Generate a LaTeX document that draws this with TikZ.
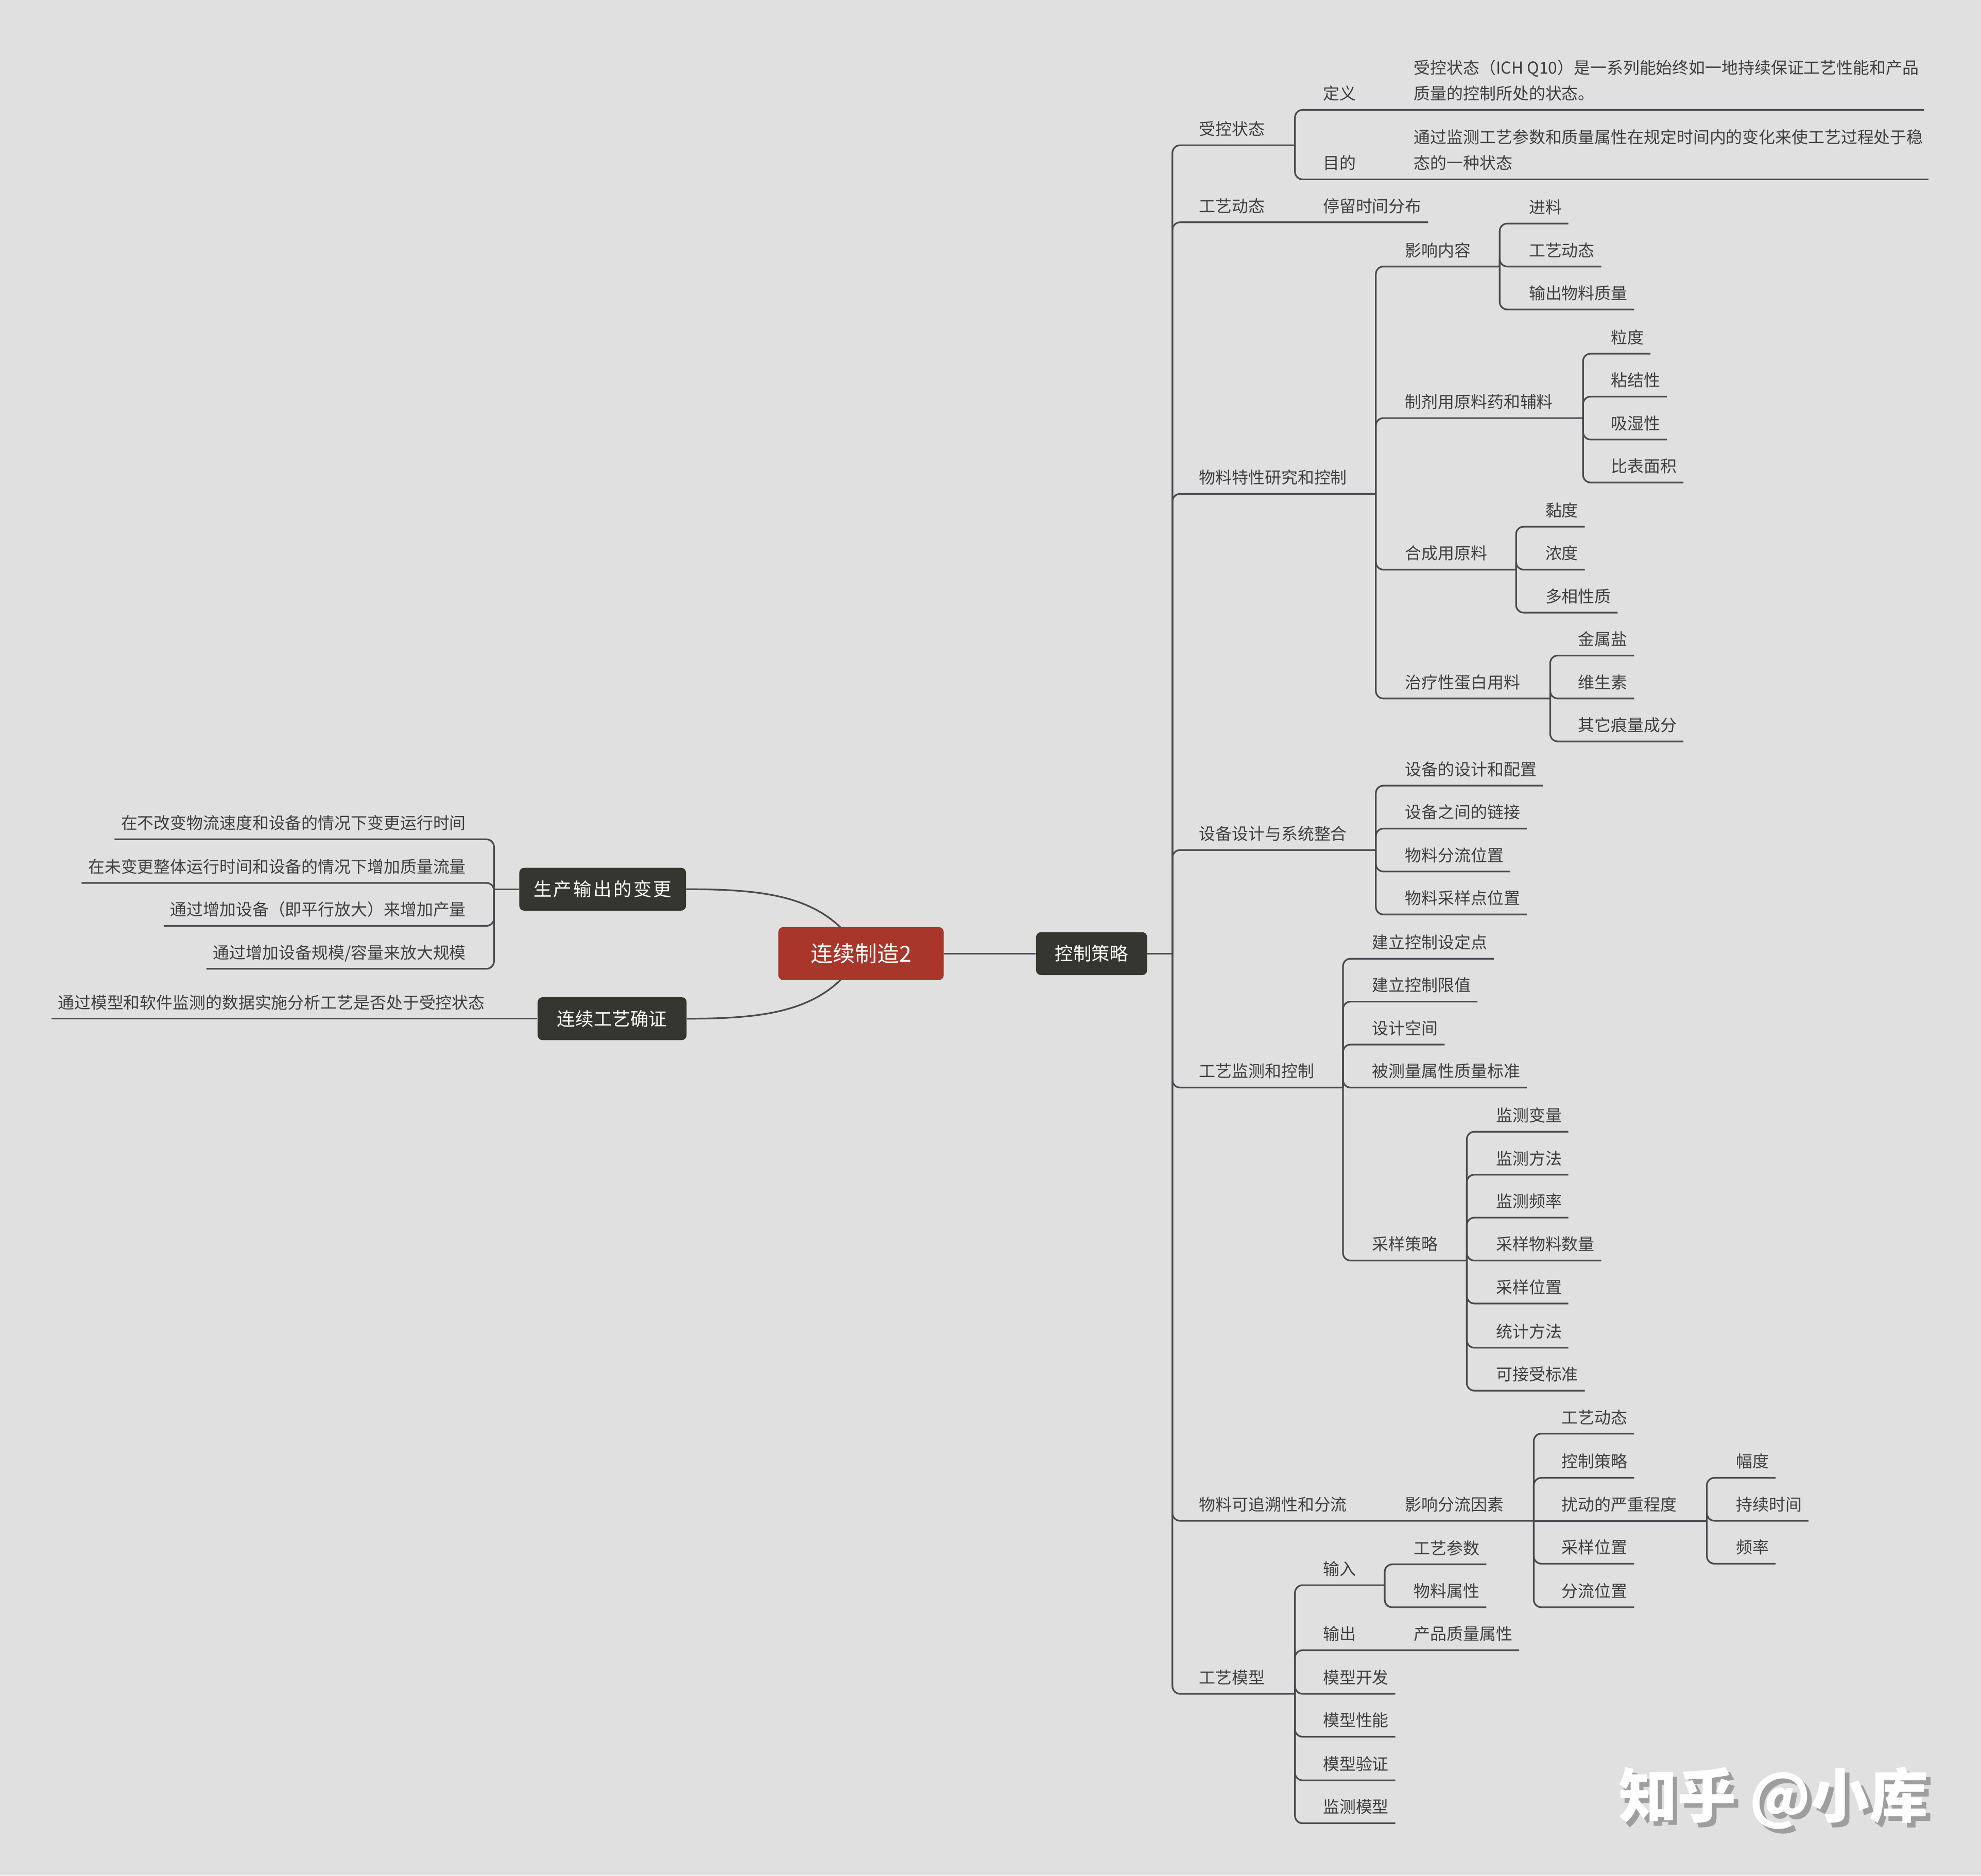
\documentclass[tikz,border=0pt]{standalone}
\usepackage{fontspec}
\newfontfamily\cjk{Noto Sans CJK SC}
\usetikzlibrary{calc,backgrounds}

\definecolor{bgcol}{HTML}{E0E0E0}
\definecolor{linecol}{HTML}{4A4A4E}
\definecolor{textcol}{HTML}{3E3E3E}
\definecolor{topiccol}{HTML}{363631}
\definecolor{rootcol}{HTML}{A8362A}
\definecolor{shadowcol}{HTML}{9E9E9E}

\begin{document}
\begin{tikzpicture}[
  x=1pt,
  y=-1pt,
  link/.style={draw=linecol,line width=1.3pt,rounded corners=6pt},
  leaf/.style={
    font=\cjk\fontsize{13}{20.5}\selectfont,
    text=textcol,
    anchor=base west,
    inner sep=0pt
  },
  leafl/.style={leaf,anchor=base east},
  topic/.style={
    fill=topiccol,
    text=white,
    rounded corners=4pt,
    font=\cjk\fontsize{14.5}{17}\selectfont,
    minimum height=34pt,
    inner xsep=14pt
  },
  rootbox/.style={
    topic,
    fill=rootcol,
    font=\cjk\fontsize{17.5}{20}\selectfont,
    minimum width=131pt,
    minimum height=42pt
  }
]
  \useasboundingbox (0,0) rectangle (1568,1485);

  % 中心主题
  \node[rootbox] (root) at (681.5,755) {连续制造2};
  \node[topic,minimum width=88pt] (kzcl) at (864,755) {控制策略};
  \node[topic,minimum width=132pt,inner xsep=4pt] (scbg) at (477,704)
    {\addfontfeature{LetterSpace=9}生产输出的变更};
  \node[topic,minimum width=118pt] (lxqz) at (484.5,806.5) {连续工艺确证};

  \draw[link] (root.east) -- (kzcl.west);

  % 主干
  \coordinate (jT) at (928,755);
  \draw[link] (kzcl.east) -- (jT);

  % 受控状态
  \node[leaf] (skzt) at (949,107) {受控状态};
  \coordinate (jSK) at (1025,115);
  \draw[link] (jT) |- (jSK);

  \node[leaf] (dy) at (1047,79) {定义};
  \node[leaf,align=left] (dyx) at (1119,79)
    {受控状态（ICH Q10）是一系列能始终如一地持续保证工艺性能和产品\\
     质量的控制所处的状态。};
  \draw[link] (jSK) |- ($(dyx.east |- 0,87)+(4,0)$);

  \node[leaf] (md) at (1047,134) {目的};
  \node[leaf,align=left] (mdx) at (1119,134)
    {通过监测工艺参数和质量属性在规定时间内的变化来使工艺过程处于稳\\
     态的一种状态};
  \draw[link] (jSK) |- ($(mdx.east |- 0,142)+(4,0)$);

  % 工艺动态
  \node[leaf] (gydt) at (949,168) {工艺动态};
  \node[leaf] (tlsj) at (1047,168) {停留时间分布};
  \draw[link] (jT) |- ([shift={(5,8)}]tlsj.base east);

  % 物料特性研究和控制
  \node[leaf] (wltx) at (949,383) {物料特性研究和控制};
  \coordinate (jWL) at (1089,391);
  \draw[link] (jT) |- (jWL);

  \node[leaf] (yxnr) at (1112,203) {影响内容};
  \coordinate (jYX) at (1187,211);
  \draw[link] (jWL) |- (jYX);
  \foreach \t/\y [count=\i] in {进料/177,工艺动态/211,输出物料质量/245}
  {
    \node[leaf] (yx\i) at (1210,\y-8) {\t};
    \draw[link] (jYX) |- ([shift={(5,8)}]yx\i.base east);
  }

  \node[leaf] (zjyl) at (1112,323) {制剂用原料药和辅料};
  \coordinate (jZJ) at (1253,331);
  \draw[link] (jWL) |- (jZJ);
  \foreach \t/\y [count=\i] in {粒度/280,粘结性/314,吸湿性/348,比表面积/382}
  {
    \node[leaf] (zj\i) at (1275,\y-8) {\t};
    \draw[link] (jZJ) |- ([shift={(5,8)}]zj\i.base east);
  }

  \node[leaf] (hcyl) at (1112,443) {合成用原料};
  \coordinate (jHC) at (1200,451);
  \draw[link] (jWL) |- (jHC);
  \foreach \t/\y [count=\i] in {黏度/417,浓度/451,多相性质/485}
  {
    \node[leaf] (hc\i) at (1223,\y-8) {\t};
    \draw[link] (jHC) |- ([shift={(5,8)}]hc\i.base east);
  }

  \node[leaf] (zlxd) at (1112,545) {治疗性蛋白用料};
  \coordinate (jZL) at (1227,553);
  \draw[link] (jWL) |- (jZL);
  \foreach \t/\y [count=\i] in {金属盐/519,维生素/553,其它痕量成分/587}
  {
    \node[leaf] (zl\i) at (1249,\y-8) {\t};
    \draw[link] (jZL) |- ([shift={(5,8)}]zl\i.base east);
  }

  % 设备设计与系统整合
  \node[leaf] (sbsj) at (949,665) {设备设计与系统整合};
  \coordinate (jSB) at (1089,673);
  \draw[link] (jT) |- (jSB);
  \foreach \t/\y [count=\i] in
    {设备的设计和配置/622,设备之间的链接/656,物料分流位置/690,物料采样点位置/724}
  {
    \node[leaf] (sb\i) at (1112,\y-8) {\t};
    \draw[link] (jSB) |- ([shift={(5,8)}]sb\i.base east);
  }

  % 工艺监测和控制
  \node[leaf] (gyjc) at (949,853) {工艺监测和控制};
  \coordinate (jJC) at (1063,861);
  \draw[link] (jT) |- (jJC);
  \foreach \t/\y [count=\i] in
    {建立控制设定点/759,建立控制限值/793,设计空间/827,被测量属性质量标准/861}
  {
    \node[leaf] (jc\i) at (1086,\y-8) {\t};
    \draw[link] (jJC) |- ([shift={(5,8)}]jc\i.base east);
  }

  \node[leaf] (cycl) at (1086,990) {采样策略};
  \coordinate (jCY) at (1161,998);
  \draw[link] (jJC) |- (jCY);
  \foreach \t/\y [count=\i] in
    {监测变量/896,监测方法/930,监测频率/964,采样物料数量/998,
     采样位置/1032,统计方法/1067,可接受标准/1101}
  {
    \node[leaf] (cy\i) at (1184,\y-8) {\t};
    \draw[link] (jCY) |- ([shift={(5,8)}]cy\i.base east);
  }

  % 物料可追溯性和分流
  \node[leaf] (wlzs) at (949,1196) {物料可追溯性和分流};
  \node[leaf] (yxfl) at (1112,1196) {影响分流因素};
  \coordinate (jFL) at (1214,1204);
  \draw[link] (jT) |- (jFL);
  \foreach \t/\y [count=\i] in
    {工艺动态/1135,控制策略/1170,采样位置/1238,分流位置/1272.5}
  {
    \node[leaf] (fl\i) at (1236,\y-8) {\t};
    \draw[link] (jFL) |- ([shift={(5,8)}]fl\i.base east);
  }

  \node[leaf] (rdcd) at (1236,1196) {扰动的严重程度};
  \coordinate (jRD) at (1351,1204);
  \draw[link] (jFL) -- (jRD);
  \foreach \t/\y [count=\i] in {幅度/1170,持续时间/1204,频率/1238}
  {
    \node[leaf] (rd\i) at (1374,\y-8) {\t};
    \draw[link] (jRD) |- ([shift={(5,8)}]rd\i.base east);
  }

  % 工艺模型
  \node[leaf] (gymx) at (949,1333) {工艺模型};
  \coordinate (jMX) at (1025,1341);
  \draw[link] (jT) |- (jMX);

  \node[leaf] (sr) at (1047,1247) {输入};
  \coordinate (jSR) at (1096,1255);
  \draw[link] (jMX) |- (jSR);
  \foreach \t/\y [count=\i] in {工艺参数/1238.5,物料属性/1272.5}
  {
    \node[leaf] (sr\i) at (1119,\y-8) {\t};
    \draw[link] (jSR) |- ([shift={(5,8)}]sr\i.base east);
  }

  \node[leaf] (sc) at (1047,1298.5) {输出};
  \node[leaf] (cpzl) at (1119,1298.5) {产品质量属性};
  \draw[link] (jMX) |- ([shift={(5,8)}]cpzl.base east);

  \foreach \t/\y [count=\i] in
    {模型开发/1341,模型性能/1375,模型验证/1409.5,监测模型/1443.5}
  {
    \node[leaf] (mx\i) at (1047,\y-8) {\t};
    \draw[link] (jMX) |- ([shift={(5,8)}]mx\i.base east);
  }

  % 生产输出的变更
  \coordinate (jSC) at (391,704);
  \draw[link] (scbg.west) -- (jSC);
  \node[leafl] (sc1) at (369,656.5) {在不改变物流速度和设备的情况下变更运行时间};
  \node[leafl] (sc2) at (369,691) {在未变更整体运行时间和设备的情况下增加质量流量};
  \node[leafl] (sc3) at (369,725) {通过增加设备（即平行放大）来增加产量};
  \node[leafl] (sc4) at (369,759) {通过增加设备规模/容量来放大规模};
  \draw[link] (jSC) |- ([shift={(-5,8)}]sc1.base west);
  \draw[link] (jSC) |- ([shift={(-5,8)}]sc2.base west);
  \draw[link] (jSC) |- ([shift={(-5,8)}]sc3.base west);
  \draw[link] (jSC) |- ([shift={(-5,8)}]sc4.base west);

  % 连续工艺确证
  \node[leafl] (lx1) at (384,798.5) {通过模型和软件监测的数据实施分析工艺是否处于受控状态};
  \draw[link] (lxqz.west) -- ([shift={(-5,8)}]lx1.base west);

  % 水印
  \node[anchor=base west,inner sep=0pt,text=shadowcol,
    font=\cjk\bfseries\fontsize{46.5}{50}\selectfont] (zhs) at (1284.5,1442.5) {知乎 @小库};
  \node[anchor=base west,inner sep=0pt,text=white,
    font=\cjk\bfseries\fontsize{46.5}{50}\selectfont] (zh) at (1281,1439) {知乎 @小库};

  % 背景与曲线
  \begin{scope}[on background layer]
    \fill[bgcol] (0,0) rectangle (1568,1485);
    \draw[link] (root.center) .. controls (655,710) and (610,704) .. (scbg.east);
    \draw[link] (root.center) .. controls (655,800) and (610,806.5) .. (lxqz.east);
  \end{scope}
\end{tikzpicture}
\end{document}
